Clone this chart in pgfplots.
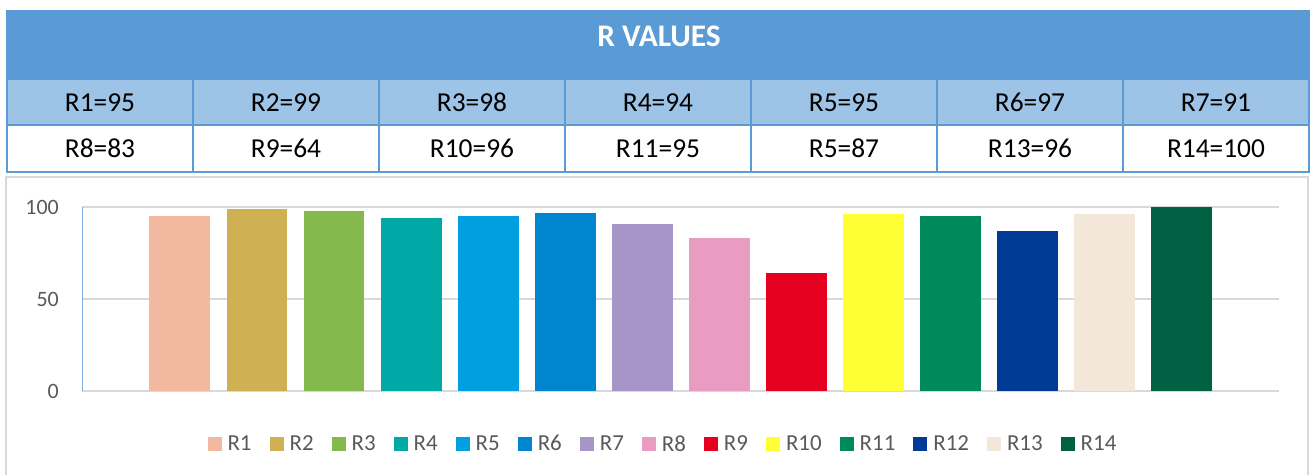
\documentclass[border=0pt]{standalone}
\usepackage{pgfplots}
\pgfplotsset{compat=1.18}
\usepackage{fontspec}
\setmainfont{Carlito}
\definecolor{hdrblue}{HTML}{5B9BD5}
\definecolor{rowblue}{HTML}{9DC3E6}
\definecolor{bordergray}{HTML}{D9D9D9}
\definecolor{textgray}{HTML}{595959}
\definecolor{c1}{HTML}{F3B9A0}
\definecolor{c2}{HTML}{CFB053}
\definecolor{c3}{HTML}{84BA4D}
\definecolor{c4}{HTML}{00A9A5}
\definecolor{c5}{HTML}{00A0E0}
\definecolor{c6}{HTML}{0086CF}
\definecolor{c7}{HTML}{A795C7}
\definecolor{c8}{HTML}{E99BC2}
\definecolor{c9}{HTML}{E5001F}
\definecolor{c10}{HTML}{FFFF33}
\definecolor{c11}{HTML}{008A5B}
\definecolor{c12}{HTML}{003C96}
\definecolor{c13}{HTML}{F3E7DA}
\definecolor{c14}{HTML}{006243}
\begin{document}
\begin{tikzpicture}[x=1bp,y=-1bp]
\useasboundingbox (0,0) rectangle (1311,475);
% chart area border
\draw[bordergray, line width=1.5bp] (6,177) rectangle (1308,490);
% table
\fill[hdrblue] (7,11) rectangle (1309,80);
\fill[rowblue] (7,80) rectangle (1309,125);
\fill[white] (7,125) rectangle (1309,172);
\draw[hdrblue, line width=1.8bp] (7,11) rectangle (1309,172);
\draw[hdrblue, line width=1.8bp] (7,125) -- (1309,125);
\foreach \k in {1,...,6} {
  \draw[hdrblue, line width=1.8bp] ({7+186*\k},80) -- ({7+186*\k},172);
}
\node[text=white, font={\fontsize{31.5}{36}\selectfont\bfseries}] at (659,36) {R VALUES};
\foreach \t [count=\i from 0] in {R1=95,R2=99,R3=98,R4=94,R5=95,R6=97,R7=91} {
  \node[font={\fontsize{27.5}{32}\selectfont}] at ({100+186*\i},102.5) {\t};
}
\foreach \t [count=\i from 0] in {R8=83,R9=64,R10=96,R11=95,R5=87,R13=96,R14=100} {
  \node[font={\fontsize{27.5}{32}\selectfont}] at ({100+186*\i},148.5) {\t};
}
\begin{axis}[
  at={(82bp,-391bp)}, anchor=south west,
  scale only axis, width=1197bp, height=184bp,
  xmin=-0.27, xmax=15.26, ymin=0, ymax=100,
  xtick=\empty, ytick={0,50,100},
  ymajorgrids, grid style={bordergray, line width=1.5bp},
  axis line style={draw=none},
  major tick length=0pt,
  /pgf/number format/assume math mode=true,
  yticklabel style={font={\fontsize{22}{26}\selectfont}, text=textgray, inner sep=0pt, xshift=-23bp},
  ybar, bar width=0.79, bar shift=0pt,
  legend columns=14,
  legend image code/.code={\fill[#1] (0bp,-7bp) rectangle (14bp,7bp);},
  legend style={at={(0.4845,-0.288)}, anchor=center, draw=none, fill=none,
    font={\fontsize{23}{27}\selectfont}, text=textgray,
    nodes={inner sep=0pt},
    /tikz/every odd column/.append style={column sep=6bp},
    /tikz/every even column/.append style={column sep=18bp}},
]
\addplot[fill=c1, draw=none] coordinates {(1,95)};
\addplot[fill=c2, draw=none] coordinates {(2,99)};
\addplot[fill=c3, draw=none] coordinates {(3,98)};
\addplot[fill=c4, draw=none] coordinates {(4,94)};
\addplot[fill=c5, draw=none] coordinates {(5,95)};
\addplot[fill=c6, draw=none] coordinates {(6,97)};
\addplot[fill=c7, draw=none] coordinates {(7,91)};
\addplot[fill=c8, draw=none] coordinates {(8,83)};
\addplot[fill=c9, draw=none] coordinates {(9,64)};
\addplot[fill=c10, draw=none] coordinates {(10,96)};
\addplot[fill=c11, draw=none] coordinates {(11,95)};
\addplot[fill=c12, draw=none] coordinates {(12,87)};
\addplot[fill=c13, draw=none] coordinates {(13,96)};
\addplot[fill=c14, draw=none] coordinates {(14,100)};
\legend{R1,R2,R3,R4,R5,R6,R7,R8,R9,R10,R11,R12,R13,R14}
\draw[hdrblue!80, line width=0.8bp] (axis description cs:0,0) -- (axis description cs:0,1);
\end{axis}
\end{tikzpicture}
\end{document}
